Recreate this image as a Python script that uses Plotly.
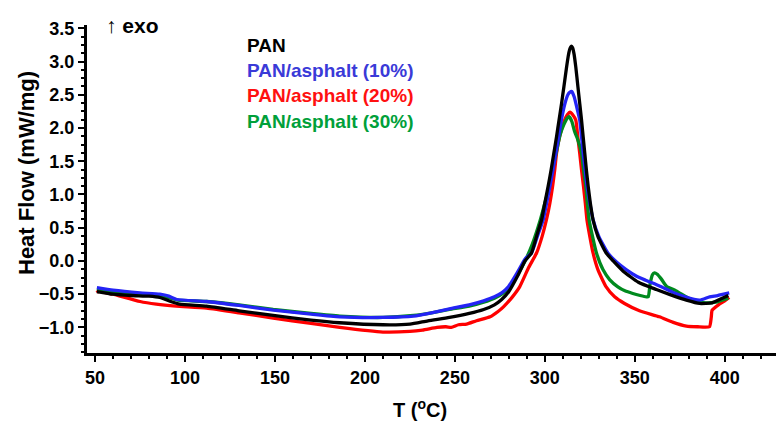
import plotly.graph_objects as go

# ---------------- data ----------------
pan_T = [51, 60, 70, 80, 86, 92, 97, 112, 130, 149, 170, 186, 210, 225, 235, 247, 258, 266, 272,
         276, 280, 285, 289, 292.6, 295.5, 298.2, 300, 301.8, 303.5, 305, 306.5, 307.9, 309.3, 310.6,
         312, 313, 313.8, 314.6, 315.4, 316.2, 317.2, 318.4, 319.4, 320.4, 321.3, 322.2, 323.1, 324.1,
         325.3, 326.8, 329.5, 334.1, 338, 343.4, 352, 362, 370, 378.7, 386, 393, 398, 402]
pan_v = [-0.46, -0.50, -0.52, -0.53, -0.55, -0.61, -0.65, -0.68, -0.75, -0.82, -0.89, -0.93, -0.96,
         -0.95, -0.90, -0.85, -0.79, -0.73, -0.66, -0.58, -0.46, -0.22, 0.0, 0.12, 0.38, 0.62, 0.87,
         1.12, 1.37, 1.62, 1.87, 2.12, 2.37, 2.62, 2.90, 3.08, 3.18, 3.23, 3.21, 3.12, 2.92, 2.62,
         2.37, 2.12, 1.87, 1.62, 1.37, 1.12, 0.87, 0.62, 0.37, 0.12, 0.0, -0.15, -0.32, -0.43, -0.51,
         -0.59, -0.64, -0.63, -0.57, -0.52]

a10_T = [51, 60, 75, 86, 91, 95.4, 112, 130, 149, 170, 186, 210, 227, 237, 247, 258, 266, 272, 276,
         279.7, 285, 289, 292.6, 296, 299.1, 301, 302.8, 304.5, 306.1, 307.7, 309.2, 311, 312.8, 314,
         315, 316.3, 317.7, 319.4, 320.4, 321.3, 322.4, 323.5, 325, 326.8, 330, 335, 340, 345.2, 351,
         356, 364, 371, 378, 386, 391.6, 396, 402.5]
a10_v = [-0.40, -0.44, -0.48, -0.50, -0.53, -0.58, -0.61, -0.67, -0.74, -0.80, -0.84, -0.85, -0.83,
         -0.78, -0.72, -0.66, -0.60, -0.54, -0.48, -0.39, -0.16, 0.03, 0.12, 0.38, 0.62, 0.87, 1.12,
         1.37, 1.62, 1.87, 2.12, 2.35, 2.50, 2.54, 2.55, 2.47, 2.32, 2.12, 1.87, 1.62, 1.37, 1.12,
         0.87, 0.62, 0.37, 0.12, -0.02, -0.13, -0.23, -0.29, -0.38, -0.47, -0.54, -0.59, -0.54, -0.52,
         -0.48]

a20_T = [51, 53, 55, 60, 75, 84, 95, 112, 130, 149, 170, 186, 210, 225, 232, 240, 245, 248, 252,
         256.5, 262, 269.6, 274, 277, 282, 286, 291, 295.4, 298.5, 300.9, 302.8, 304.3, 305.5, 306.5,
         308, 309.5, 311, 312.5, 314, 315.5, 317.2, 318.3, 319.4, 320.4, 321.5, 322.5, 323.4, 325,
         326.8, 329.5, 334.1, 338.8, 344.3, 352.6, 363.7, 371, 378.7, 385, 391.5, 392.5, 393, 396.5,
         400, 402.5]
a20_v = [-0.48, -0.42, -0.47, -0.50, -0.61, -0.65, -0.68, -0.71, -0.78, -0.86, -0.94, -1.00, -1.07,
         -1.06, -1.04, -1.00, -0.99, -1.00, -0.96, -0.95, -0.90, -0.84, -0.76, -0.69, -0.54, -0.39,
         -0.10, 0.12, 0.37, 0.62, 0.87, 1.12, 1.37, 1.62, 1.85, 2.00, 2.12, 2.20, 2.24, 2.20, 2.12,
         1.87, 1.62, 1.37, 1.12, 0.87, 0.62, 0.37, 0.12, -0.13, -0.39, -0.54, -0.64, -0.75, -0.84,
         -0.92, -0.98, -0.99, -0.99, -0.85, -0.74, -0.66, -0.60, -0.55]

a30_T = [51, 60, 75, 86, 92, 96, 112, 130, 149, 170, 186, 210, 227, 237, 247, 258, 266, 272, 277,
         281, 285, 289, 293, 297.5, 300, 302.5, 304.5, 306.5, 308.5, 310.5, 312.5, 313.5, 315, 316.5,
         318, 320.4, 321.5, 322.8, 323.6, 324.6, 326.5, 328.7, 332.3, 336, 340.6, 344.5, 348.9, 353,
         356.5, 357.5, 358.5, 359.8, 361, 362.5, 364.7, 367.6, 373, 382, 389.5, 395, 402]
a30_v = [-0.42, -0.46, -0.50, -0.52, -0.56, -0.59, -0.61, -0.66, -0.73, -0.79, -0.83, -0.85, -0.82,
         -0.78, -0.73, -0.68, -0.62, -0.56, -0.48, -0.37, -0.20, 0.0, 0.25, 0.62, 0.87, 1.12, 1.40,
         1.65, 1.90, 2.05, 2.15, 2.17, 2.10, 1.95, 1.85, 1.62, 1.37, 1.12, 0.87, 0.62, 0.37, 0.12,
         -0.13, -0.28, -0.39, -0.45, -0.49, -0.52, -0.54, -0.54, -0.35, -0.21, -0.18, -0.20, -0.27,
         -0.38, -0.45, -0.59, -0.63, -0.62, -0.56]

series_names = ["PAN", "PAN/asphalt (10%)", "PAN/asphalt (20%)", "PAN/asphalt (30%)"]
line_colors = ["#000000", "#2424f5", "#ff0000", "#008a1e"]
label_colors = ["#000000", "#3a3ad8", "#ff1010", "#00a03a"]

x_title = "T (<sup>o</sup>C)"
y_title = "Heat Flow (mW/mg)"
exo_label = "↑ <b>exo</b>"

FONT = "Arial, Liberation Sans, sans-serif"

fig = go.Figure()
traces = []
for T, v, name, col in zip([pan_T, a10_T, a20_T, a30_T], [pan_v, a10_v, a20_v, a30_v],
                           series_names, line_colors):
    traces.append(go.Scatter(x=T, y=v, mode="lines", name=name,
                             line=dict(color=col, width=3.3, shape="spline", smoothing=0.5),
                             showlegend=False))
# drawing order similar to the reference (black on top)
for i in (2, 3, 1, 0):
    fig.add_trace(traces[i])

W, H = 778, 421
ml, mr, mt, mb = 87, 2, 25, 68
pw, ph = W - ml - mr, H - mt - mb

def px(xp):
    return (xp - ml) / pw

def py(yp):
    return (H - mb - yp) / ph

fig.update_layout(
    width=W, height=H,
    margin=dict(l=ml, r=mr, t=mt, b=mb),
    paper_bgcolor="white", plot_bgcolor="white",
    font=dict(family=FONT, color="black"),
    xaxis=dict(range=[45.5, 428.5], tickmode="array", tickvals=[50, 100, 150, 200, 250, 300, 350, 400],
               showgrid=False, zeroline=False, showline=True, linewidth=3, linecolor="black",
               ticks="outside", ticklen=6, tickwidth=2, tickcolor="black",
               tickfont=dict(size=18, family=FONT, weight="bold", color="black"),
               minor=dict(dtick=10, tick0=0, ticks="outside", ticklen=3, tickwidth=2, tickcolor="black"),
               fixedrange=True),
    yaxis=dict(range=[-1.385, 3.55], tickmode="array",
               tickvals=[-1.0, -0.5, 0.0, 0.5, 1.0, 1.5, 2.0, 2.5, 3.0, 3.5],
               tickformat=".1f",
               showgrid=False, zeroline=False, showline=True, linewidth=3, linecolor="black",
               ticks="outside", ticklen=6, tickwidth=2, tickcolor="black",
               tickfont=dict(size=18, family=FONT, weight="bold", color="black"),
               minor=dict(dtick=0.125, tick0=0, ticks="outside", ticklen=3, tickwidth=2, tickcolor="black"),
               fixedrange=True),
)

ann = []
# legend as coloured text
for i, (name, col) in enumerate(zip(series_names, label_colors)):
    ann.append(dict(xref="paper", yref="paper", x=px(245), y=py(45 + 25.5 * i),
                    xanchor="left", yanchor="middle", showarrow=False,
                    text=f"<b>{name}</b>", font=dict(size=19, color=col, family=FONT)))
ann.append(dict(xref="paper", yref="paper", x=px(104), y=py(25), xanchor="left", yanchor="middle",
                showarrow=False, text=exo_label,
                font=dict(size=21, color="black", family=FONT)))
ann.append(dict(xref="paper", yref="paper", x=px(420), y=py(408), xanchor="center", yanchor="middle",
                showarrow=False, text=f"<b>{x_title}</b>", font=dict(size=20, color="black", family=FONT)))
ann.append(dict(xref="paper", yref="paper", x=px(26), y=py(173), xanchor="center", yanchor="middle",
                showarrow=False, textangle=-90, text=f"<b>{y_title}</b>",
                font=dict(size=22, color="black", family=FONT)))
fig.update_layout(annotations=ann)

fig.write_html("out.html")
